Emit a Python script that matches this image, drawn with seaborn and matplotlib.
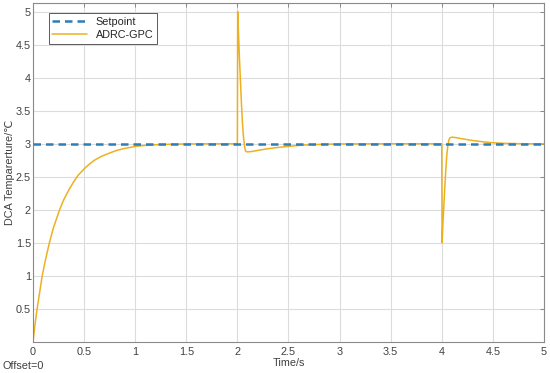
import matplotlib
matplotlib.use("Agg")
import numpy as np
import pandas as pd
import seaborn as sns
import matplotlib.pyplot as plt

# --- data ---
t_set = [0, 5]
y_set = [3, 3]

t_resp = [0, 0.02, 0.04, 0.06, 0.09, 0.12, 0.16, 0.2, 0.26, 0.3, 0.35, 0.4, 0.44, 0.5, 0.55,
          0.6, 0.67, 0.75, 0.82, 0.9, 1.0, 1.1, 1.2, 1.35, 1.5, 1.7, 2.0,
          2.003, 2.01, 2.02, 2.03, 2.04, 2.05, 2.06, 2.07, 2.08, 2.09, 2.1, 2.15, 2.2, 2.3,
          2.4, 2.5, 2.6, 2.7, 2.85, 3.0, 3.5, 4.0,
          4.003, 4.01, 4.02, 4.03, 4.04, 4.05, 4.06, 4.07, 4.08, 4.1, 4.13, 4.2, 4.3, 4.4,
          4.5, 4.6, 4.8, 5.0]
y_resp = [0, 0.27, 0.5, 0.7, 1.0, 1.23, 1.5, 1.73, 2.0, 2.15, 2.3, 2.43, 2.52, 2.62, 2.69,
          2.75, 2.81, 2.86, 2.9, 2.93, 2.96, 2.975, 2.985, 2.993, 2.997, 2.999, 3.0,
          5.0, 4.7, 4.3, 3.95, 3.6, 3.3, 3.1, 2.96, 2.89, 2.88, 2.877, 2.885, 2.9, 2.925,
          2.945, 2.96, 2.975, 2.985, 2.993, 2.997, 3.0, 3.0,
          1.5, 1.75, 2.05, 2.35, 2.62, 2.84, 2.98, 3.06, 3.09, 3.1, 3.095, 3.075, 3.05, 3.03,
          3.015, 3.007, 3.0, 3.0]

x_ticks = [0, 0.5, 1, 1.5, 2, 2.5, 3, 3.5, 4, 4.5, 5]
x_ticklabels = ["0", "0.5", "1", "1.5", "2", "2.5", "3", "3.5", "4", "4.5", "5"]
y_ticks = [0.5, 1, 1.5, 2, 2.5, 3, 3.5, 4, 4.5, 5]
y_ticklabels = ["0.5", "1", "1.5", "2", "2.5", "3", "3.5", "4", "4.5", "5"]

df_set = pd.DataFrame({"t": t_set, "y": y_set})
df_resp = pd.DataFrame({"t": t_resp, "y": y_resp})

sns.set_style("white")
plt.rcParams['font.family'] = ['Liberation Sans', 'DejaVu Sans']

fig = plt.figure(figsize=(5.5, 3.73), dpi=100)
ax = fig.add_axes([0.06, 0.083, 0.929, 0.909])

sns.lineplot(data=df_resp, x="t", y="y", ax=ax, color="#EDB120", linewidth=1.1,
             sort=False, estimator=None, label="ADRC-GPC", zorder=2)
sns.lineplot(data=df_set, x="t", y="y", ax=ax, color="#2f7db6", linewidth=1.8,
             linestyle=(0, (3, 2)), estimator=None, label="Setpoint", zorder=3)

ax.set_xlim(0, 5)
ax.set_ylim(0, 5.13)
ax.set_xticks(x_ticks)
ax.set_xticklabels(x_ticklabels)
ax.set_yticks(y_ticks)
ax.set_yticklabels(y_ticklabels)
ax.grid(True, color="#dcdcdc", linewidth=0.8)
ax.set_axisbelow(True)
ax.tick_params(direction="in", length=3, width=0.6, colors="#7a7a7a",
               labelcolor="#404040", labelsize=7.8, top=True, right=True)
ax.tick_params(axis="y", pad=1.5)
for s in ax.spines.values():
    s.set_color("#8a8a8a")
    s.set_linewidth(0.8)

ax.set_xlabel("Time/s", fontsize=7.8, color="#404040", labelpad=1)
ax.set_ylabel("DCA Temparerture/℃", fontsize=7.8, color="#404040")
ax.yaxis.set_label_coords(-0.036, 0.5)

handles, labels = ax.get_legend_handles_labels()
order = [labels.index("Setpoint"), labels.index("ADRC-GPC")]
leg = ax.legend([handles[i] for i in order], [labels[i] for i in order],
                loc="upper left", bbox_to_anchor=(0.02, 0.985), fontsize=7.8,
                frameon=True, fancybox=False, framealpha=1, edgecolor="#404040",
                borderpad=0.35, handlelength=3.2, labelspacing=0.25)
leg.get_frame().set_linewidth(0.6)

fig.text(0.005, 0.012, "Offset=0", fontsize=7.8, color="#404040")

fig.savefig("out.png", dpi=100)
plt.close(fig)
